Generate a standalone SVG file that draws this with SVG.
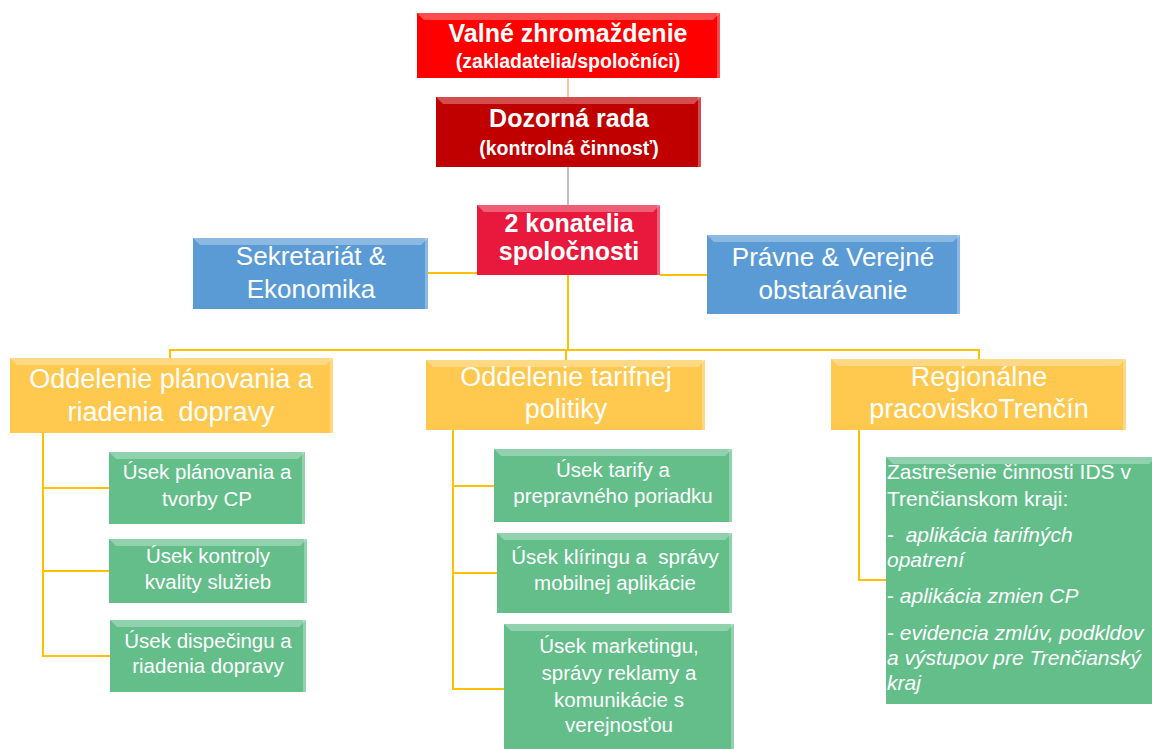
<svg xmlns="http://www.w3.org/2000/svg" width="1152" height="749" viewBox="0 0 1152 749">
<style>
text{font-family:"Liberation Sans",Arial,sans-serif;fill:#fff;text-anchor:middle}
.b{font-weight:bold}
.t1{font-size:25px}
.t2{font-size:19.5px}
.tb{font-size:26px}
.ty{font-size:27px}
.tg{font-size:20.5px}
.tr{font-size:21px}
.tl{text-anchor:start}
.it{font-style:italic}
.red{fill:#FF0000}
.dred{fill:#C00000}
.crim{fill:#E8193C}
.blue{fill:#5B9BD5}
.yel{fill:#FFC84E}
.grn{fill:#63BE8A}
.bt{fill:#fff;fill-opacity:.3}
.br{fill:#fff;fill-opacity:.3}
.c{fill:none;stroke:#FFC000;stroke-width:2}
</style>
<g id="connectors">
<line x1="568" y1="78" x2="568" y2="97" stroke="#F4B183" stroke-width="1.5"/>
<line x1="568" y1="167" x2="568" y2="205" stroke="#BFBFBF" stroke-width="2"/>
<line class="c" x1="428" y1="273" x2="477" y2="273"/>
<line class="c" x1="660" y1="275" x2="707" y2="275"/>
<line class="c" x1="568" y1="275" x2="568" y2="350"/>
<line class="c" x1="169" y1="350" x2="980" y2="350"/>
<line class="c" x1="170" y1="349" x2="170" y2="358"/>
<line class="c" x1="566" y1="349" x2="566" y2="360"/>
<line class="c" x1="979" y1="349" x2="979" y2="359"/>
<polyline class="c" points="43,433 43,656 110,656"/>
<line class="c" x1="42" y1="488" x2="109" y2="488"/>
<line class="c" x1="42" y1="571" x2="109" y2="571"/>
<polyline class="c" points="453,430 453,689 504,689"/>
<line class="c" x1="452" y1="486" x2="494" y2="486"/>
<line class="c" x1="452" y1="573" x2="497" y2="573"/>
<polyline class="c" points="859,430 859,580 886,580"/>
</g>
<g id="valne">
<rect class="red" x="417" y="13" width="303" height="65"/>
<polygon class="bt" points="417,13 720,13 713,20 424,20"/>
<rect class="br" x="717" y="13" width="3" height="65"/>
<text class="b t1" x="568" y="42">Valné zhromaždenie</text>
<text class="b t2" x="568" y="68">(zakladatelia/spoločníci)</text>
</g>
<g id="dozorna">
<rect class="dred" x="436" y="97" width="265" height="70"/>
<polygon class="bt" points="436,97 701,97 694,104 443,104"/>
<rect class="br" x="698" y="97" width="3" height="70"/>
<text class="b t1" x="569" y="127">Dozorná rada</text>
<text class="b t2" x="569" y="155">(kontrolná činnosť)</text>
</g>
<g id="konatelia">
<rect class="crim" x="477" y="205" width="183" height="70"/>
<polygon class="bt" points="477,205 660,205 653,212 484,212"/>
<rect class="br" x="657" y="205" width="3" height="70"/>
<text class="b t1" x="569" y="232">2 konatelia</text>
<text class="b t1" x="569" y="260">spoločnosti</text>
</g>
<g id="sekretariat">
<rect class="blue" x="193" y="238" width="235" height="71"/>
<polygon class="bt" points="193,238 428,238 421,245 200,245"/>
<rect class="br" x="425" y="238" width="3" height="71"/>
<text class="tb" x="311" y="265">Sekretariát &amp;</text>
<text class="tb" x="311" y="298">Ekonomika</text>
</g>
<g id="pravne">
<rect class="blue" x="707" y="235" width="253" height="79"/>
<polygon class="bt" points="707,235 960,235 953,242 714,242"/>
<rect class="br" x="957" y="235" width="3" height="79"/>
<text class="tb" x="833" y="266">Právne &amp; Verejné</text>
<text class="tb" x="833" y="299">obstarávanie</text>
</g>
<g id="odd-planovania">
<rect class="yel" x="10" y="358" width="323" height="75"/>
<polygon class="bt" points="10,358 333,358 326,365 17,365"/>
<rect class="br" x="330" y="358" width="3" height="75"/>
<text class="ty" x="171" y="388">Oddelenie plánovania a</text>
<text class="ty" x="171" y="421" xml:space="preserve">riadenia  dopravy</text>
</g>
<g id="odd-tarifnej">
<rect class="yel" x="426" y="360" width="279" height="70"/>
<polygon class="bt" points="426,360 705,360 698,367 433,367"/>
<rect class="br" x="702" y="360" width="3" height="70"/>
<text class="ty" x="566" y="386">Oddelenie tarifnej</text>
<text class="ty" x="566" y="418">politiky</text>
</g>
<g id="regionalne">
<rect class="yel" x="831" y="359" width="295" height="71"/>
<polygon class="bt" points="831,359 1126,359 1119,366 838,366"/>
<rect class="br" x="1123" y="359" width="3" height="71"/>
<text class="ty" x="979" y="386">Regionálne</text>
<text class="ty" x="979" y="418">pracoviskoTrenčín</text>
</g>
<g id="usek-planovania">
<rect class="grn" x="109" y="452" width="196" height="72"/>
<polygon class="bt" points="109,452 305,452 298,459 116,459"/>
<rect class="br" x="302" y="452" width="3" height="72"/>
<text class="tg" x="207" y="479">Úsek plánovania a</text>
<text class="tg" x="207" y="506">tvorby CP</text>
</g>
<g id="usek-kontroly">
<rect class="grn" x="109" y="539" width="198" height="64"/>
<polygon class="bt" points="109,539 307,539 300,546 116,546"/>
<rect class="br" x="304" y="539" width="3" height="64"/>
<text class="tg" x="208" y="563">Úsek kontroly</text>
<text class="tg" x="208" y="589">kvality služieb</text>
</g>
<g id="usek-dispecingu">
<rect class="grn" x="110" y="620" width="196" height="72"/>
<polygon class="bt" points="110,620 306,620 299,627 117,627"/>
<rect class="br" x="303" y="620" width="3" height="72"/>
<text class="tg" x="208" y="648">Úsek dispečingu a</text>
<text class="tg" x="208" y="673">riadenia dopravy</text>
</g>
<g id="usek-tarify">
<rect class="grn" x="494" y="449" width="238" height="73"/>
<polygon class="bt" points="494,449 732,449 725,456 501,456"/>
<rect class="br" x="729" y="449" width="3" height="73"/>
<text class="tg" x="613" y="477">Úsek tarify a</text>
<text class="tg" x="613" y="503">prepravného poriadku</text>
</g>
<g id="usek-kliringu">
<rect class="grn" x="497" y="533" width="235" height="80"/>
<polygon class="bt" points="497,533 732,533 725,540 504,540"/>
<rect class="br" x="729" y="533" width="3" height="80"/>
<text class="tg" x="615" y="564" xml:space="preserve">Úsek klíringu a  správy</text>
<text class="tg" x="615" y="590">mobilnej aplikácie</text>
</g>
<g id="usek-marketingu">
<rect class="grn" x="504" y="624" width="230" height="130"/>
<polygon class="bt" points="504,624 734,624 727,631 511,631"/>
<rect class="br" x="731" y="624" width="3" height="130"/>
<text class="tg" x="619" y="653">Úsek marketingu,</text>
<text class="tg" x="619" y="680">správy reklamy a</text>
<text class="tg" x="619" y="707">komunikácie s</text>
<text class="tg" x="619" y="732">verejnosťou</text>
</g>
<g id="zastresenie">
<rect class="grn" x="886" y="457" width="270" height="247"/>
<polygon class="bt" points="886,457 1156,457 1149,464 893,464"/>
<text class="tr tl" x="887" y="479">Zastrešenie činnosti IDS v</text>
<text class="tr tl" x="887" y="506">Trenčianskom kraji:</text>
<text class="tr tl" x="887" y="542" xml:space="preserve">-  <tspan class="it">aplikácia tarifných</tspan></text>
<text class="tr tl it" x="887" y="567">opatrení</text>
<text class="tr tl" x="887" y="603">- <tspan class="it">aplikácia zmien CP</tspan></text>
<text class="tr tl" x="887" y="640">- <tspan class="it">evidencia zmlúv, podkldov</tspan></text>
<text class="tr tl it" x="887" y="665">a výstupov pre Trenčianský</text>
<text class="tr tl it" x="887" y="690">kraj</text>
</g>
</svg>
